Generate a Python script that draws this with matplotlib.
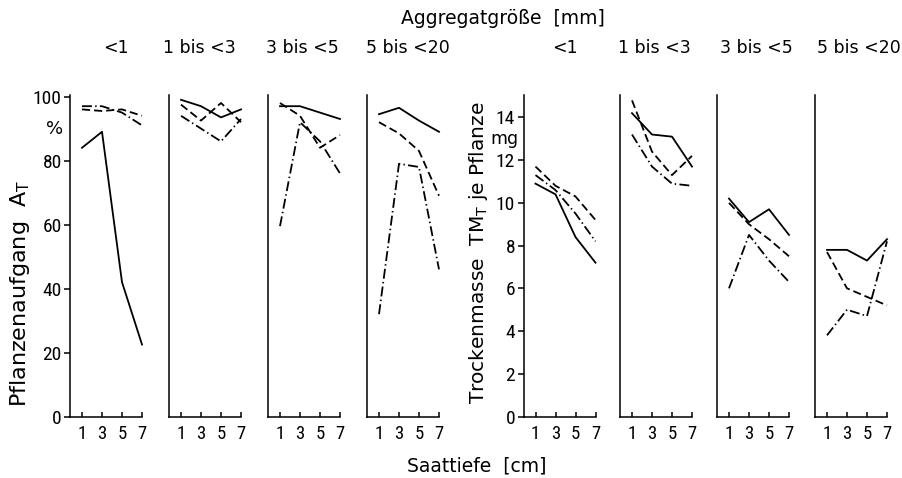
#### Pflanzenaufgang und Trockenmasse nach Saattiefe ####

import matplotlib.pyplot as plt
from matplotlib import font_manager

# Global Setting
names = {f.name for f in font_manager.fontManager.ttflist}
wish = ['Roboto Condensed', 'Liberation Sans Narrow', 'Roboto', 'DejaVu Sans']
narrow = [n for n in wish if n in names][0]          # for the numbers
text_font = ['DejaVu Sans']                          # for the labels
plt.rcParams['font.family'] = [narrow, 'DejaVu Sans']
plt.rcParams['mathtext.fontset'] = 'custom'
plt.rcParams['mathtext.rm'] = 'DejaVu Sans'
plt.rcParams['axes.linewidth'] = 1.1

## Data
depth = [1, 3, 5, 7]
groups = ['<1', '1 bis <3', '3 bis <5', '5 bis <20']

# Pflanzenaufgang A_T [%]
at_solid = [[84, 89, 42, 22.5], [99, 97, 93.5, 96], [97, 97, 95, 93], [94.5, 96.5, 92.5, 89]]
at_dash = [[96, 95.5, 96, 94], [97.5, 92.5, 98, 92], [98, 94, 84, 88], [92, 88.5, 83, 69]]
at_dashdot = [[97, 97, 95, 91], [94, 90, 86, 93], [59.5, 92, 86, 76], [32, 79, 78, 46]]

# Trockenmasse TM_T je Pflanze [mg]
tm_solid = [[10.9, 10.4, 8.4, 7.2], [14.2, 13.2, 13.1, 11.7], [10.2, 9.1, 9.7, 8.5], [7.8, 7.8, 7.3, 8.3]]
tm_dash = [[11.7, 10.8, 10.3, 9.2], [14.8, 12.4, 11.3, 12.2], [10.0, 9.0, 8.3, 7.5], [7.7, 6.0, 5.6, 5.2]]
tm_dashdot = [[11.3, 10.6, 9.5, 8.2], [13.2, 11.7, 10.9, 10.8], [6.0, 8.5, 7.3, 6.3], [3.8, 5.0, 4.7, 8.2]]

W, H = 902, 478
fig = plt.figure(figsize=(W / 100, H / 100), dpi=100)

bottom_px, top_px, width_px = 416.5, 95, 72
lefts_at = [70, 169, 268, 367]
lefts_tm = [523.5, 620, 717, 815]
title_x_at = [116, 199, 302, 408]
title_x_tm = [565, 654, 756, 859]


def panel(left_px, solid, dash, dashdot, ylim, yticks, first):
    ax = fig.add_axes([left_px / W, (H - bottom_px) / H, width_px / W, (bottom_px - top_px) / H])
    kw = dict(color='black', lw=1.3, clip_on=False)
    ax.plot(depth, solid, ls='-', **kw)
    ax.plot(depth, dash, dashes=(4.5, 2.2), **kw)
    ax.plot(depth, dashdot, dashes=(5.5, 1.8, 0.8, 1.8), **kw)
    ax.set_xlim(-0.2, 7)
    ax.set_ylim(*ylim)
    for s in ('top', 'right'):
        ax.spines[s].set_visible(False)
    ax.set_xticks(depth)
    ax.tick_params(axis='x', direction='in', length=3.5, width=1.1, labelsize=13.5, pad=6)
    if first:
        ax.set_yticks(yticks)
        ax.tick_params(axis='y', direction='out', length=4, width=1.1, labelsize=14, pad=2)
    else:
        ax.set_yticks([])
    ax.patch.set_alpha(0)
    return ax


for i in range(4):
    panel(lefts_at[i], at_solid[i], at_dash[i], at_dashdot[i], (0, 100.5), range(0, 101, 20), i == 0)
    panel(lefts_tm[i], tm_solid[i], tm_dash[i], tm_dashdot[i], (0, 15.05), range(0, 15, 2), i == 0)
    fig.text(title_x_at[i] / W, 1 - 48 / H, groups[i], ha='center', va='center',
             fontsize=12.5, family=text_font)
    fig.text(title_x_tm[i] / W, 1 - 48 / H, groups[i], ha='center', va='center',
             fontsize=12.5, family=text_font)

fig.text(503 / W, 1 - 18 / H, 'Aggregatgröße  [mm]', ha='center', va='center', fontsize=13.5, family=text_font)
fig.text(477 / W, 1 - 466 / H, 'Saattiefe  [cm]', ha='center', va='center', fontsize=13.5, family=text_font)
fig.text(20 / W, 1 - 293 / H, r'Pflanzenaufgang  A$_\mathregular{T}$', rotation=90,
         ha='center', va='center', fontsize=16, family=text_font)
fig.text(478 / W, 1 - 253 / H, r'Trockenmasse  TM$_\mathregular{T}$ je Pflanze', rotation=90,
         ha='center', va='center', fontsize=14.5, family=text_font)
fig.text(63 / W, 1 - 129 / H, '%', ha='right', va='center', fontsize=13, family=text_font)
fig.text(518 / W, 1 - 139 / H, 'mg', ha='right', va='center', fontsize=12.5, family=text_font)

fig.savefig('out.png', dpi=100)
